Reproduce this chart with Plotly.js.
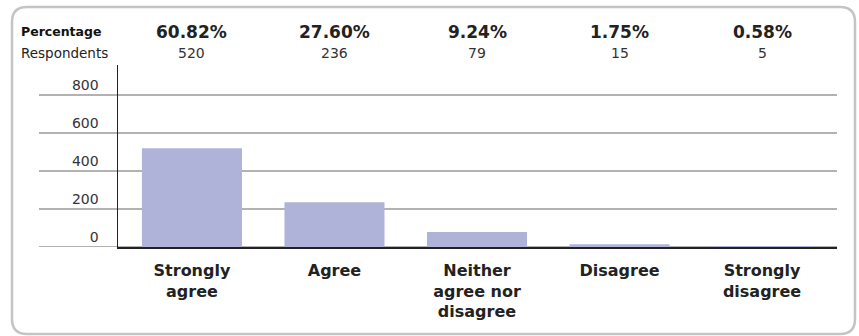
<!DOCTYPE html>
<html>
<head>
<meta charset="utf-8">
<script src="https://cdn.plot.ly/plotly-3.0.1.min.js"></script>
<style>
html,body{margin:0;padding:0;background:#fff;}
#chart{width:859px;height:336px;}
</style>
</head>
<body>
<div id="chart"></div>
<script>
var categories = ["Strongly agree", "Agree", "Neither agree nor disagree", "Disagree", "Strongly disagree"];
var categoryLabels = ["Strongly<br>agree", "Agree", "Neither<br>agree nor<br>disagree", "Disagree", "Strongly<br>disagree"];
var respondents = [520, 236, 79, 15, 5];
var percentages = ["60.82%", "27.60%", "9.24%", "1.75%", "0.58%"];
var yTicks = [0, 200, 400, 600, 800];

var W = 859, H = 336;
var mL = 118, mR = 22, mT = 65, mB = 89;
var pw = W - mL - mR, ph = H - mT - mB;
function px(x){ return (x - mL) / pw; }
function py(y){ return (H - mB - y) / ph; }
var FONT = 'DejaVu Sans, Liberation Sans, sans-serif';

var shapes = [];
yTicks.forEach(function(v){
  shapes.push({type:'line', xref:'paper', yref:'y', x0:px(39), x1:1, y0:v, y1:v,
    line:{color:'#999999', width:1.6}, layer:'below'});
});
// rounded border
var L = px(12), R = px(855), T = py(7), B = py(334);
var rx = 15 / pw, ry = 15 / ph;
var path = 'M ' + (L+rx) + ',' + T + ' L ' + (R-rx) + ',' + T +
  ' Q ' + R + ',' + T + ' ' + R + ',' + (T-ry) +
  ' L ' + R + ',' + (B+ry) +
  ' Q ' + R + ',' + B + ' ' + (R-rx) + ',' + B +
  ' L ' + (L+rx) + ',' + B +
  ' Q ' + L + ',' + B + ' ' + L + ',' + (B+ry) +
  ' L ' + L + ',' + (T-ry) +
  ' Q ' + L + ',' + T + ' ' + (L+rx) + ',' + T + ' Z';
shapes.push({type:'path', xref:'paper', yref:'paper', path:path,
  line:{color:'#c4c4c4', width:2.5}, fillcolor:'rgba(0,0,0,0)', layer:'below'});

var annotations = [];
annotations.push({xref:'paper', yref:'paper', x:px(19), y:py(32), xanchor:'left', yanchor:'middle',
  text:'<b>Percentage</b>', showarrow:false, font:{family:FONT, size:12.5, color:'#111'}});
annotations.push({xref:'paper', yref:'paper', x:px(19), y:py(53), xanchor:'left', yanchor:'middle',
  text:'Respondents', showarrow:false, font:{family:FONT, size:13.5, color:'#222'}});
categories.forEach(function(c, i){
  annotations.push({xref:'x', yref:'paper', x:i, y:py(32), xanchor:'center', yanchor:'middle',
    text:'<b>' + percentages[i] + '</b>', showarrow:false, font:{family:FONT, size:17, color:'#222'}});
  annotations.push({xref:'x', yref:'paper', x:i, y:py(53), xanchor:'center', yanchor:'middle',
    text:String(respondents[i]), showarrow:false, font:{family:FONT, size:14, color:'#333'}});
});

var trace = {
  type:'bar', x:[0,1,2,3,4], y:respondents,
  marker:{color:'#b0b3d9', line:{width:0}},
  hoverinfo:'none'
};

var layout = {
  width:W, height:H,
  margin:{l:mL, r:mR, t:mT, b:mB, pad:0},
  paper_bgcolor:'#ffffff', plot_bgcolor:'rgba(0,0,0,0)',
  showlegend:false,
  bargap:0.298,
  font:{family:FONT, color:'#222'},
  xaxis:{
    range:[-0.519, 4.526], tickmode:'array', tickvals:[0,1,2,3,4], ticktext:categoryLabels,
    showgrid:false, zeroline:false, showline:true, linecolor:'#222', linewidth:1.5,
    ticks:'', tickangle:0, ticklabelstandoff:8,
    tickfont:{family:FONT, size:16, weight:'bold', color:'#222'}
  },
  yaxis:{
    range:[0, 958], tickmode:'array', tickvals:yTicks, ticktext:yTicks.map(String),
    showgrid:false, zeroline:false, showline:true, linecolor:'#222', linewidth:1.5,
    ticks:'', ticklabelshift:-10, ticklabelstandoff:15,
    tickfont:{family:FONT, size:14, color:'#333'}
  },
  shapes:shapes,
  annotations:annotations
};

Plotly.newPlot('chart', [trace], layout, {displayModeBar:false, staticPlot:true});
</script>
</body>
</html>
